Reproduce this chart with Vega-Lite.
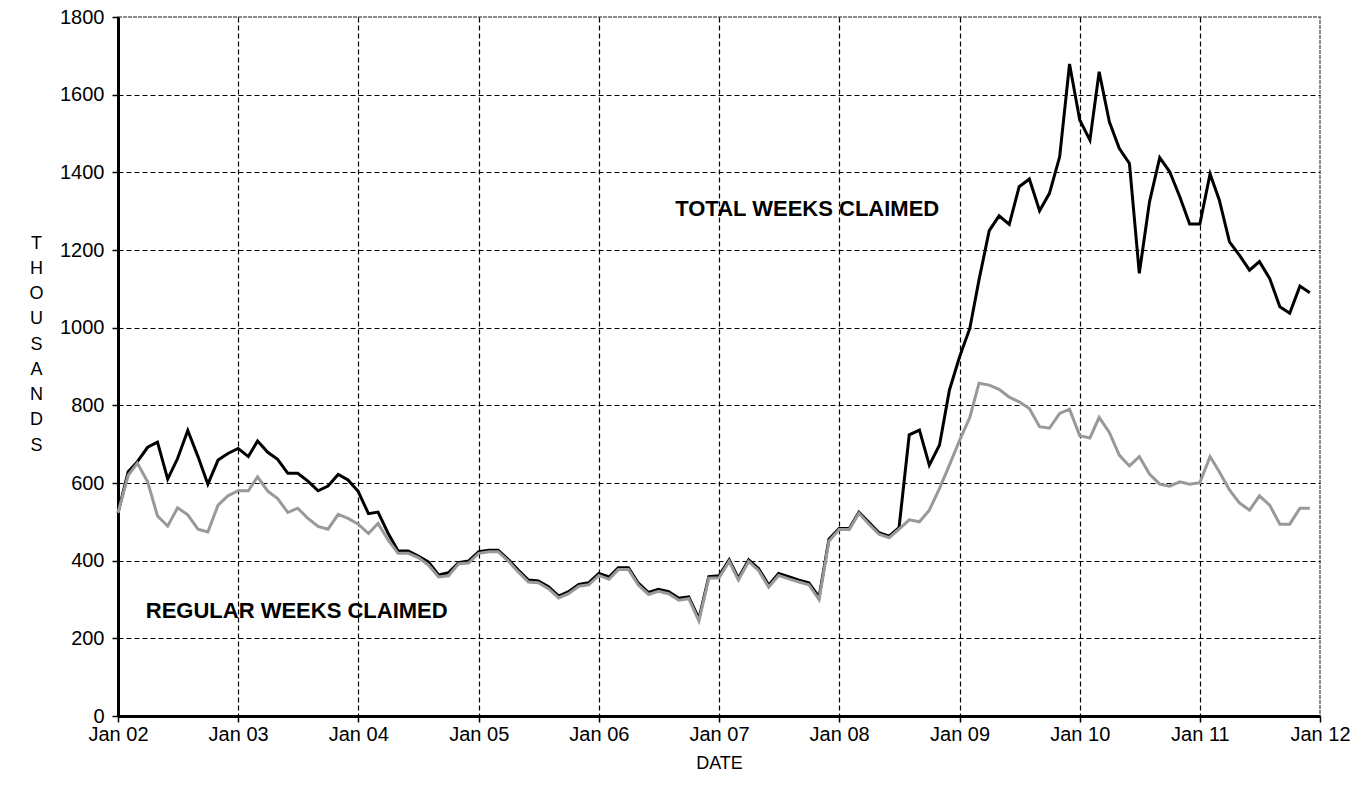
{
  "$schema": "https://vega.github.io/schema/vega-lite/v6.json",
  "width": 1202,
  "height": 699,
  "autosize": {"type": "none"},
  "padding": {"left": 118, "top": 17, "right": 52, "bottom": 80},
  "background": "white",
  "config": {
    "font": "Liberation Sans",
    "view": {"stroke": "#8c8c8c", "strokeWidth": 2, "strokeDash": [4, 1]},
    "axis": {
      "labelFont": "Liberation Sans",
      "titleFont": "Liberation Sans",
      "labelFontSize": 20,
      "titleFontSize": 18,
      "titleFontWeight": "normal",
      "labelColor": "black",
      "titleColor": "black",
      "domainColor": "black",
      "domainWidth": 3,
      "tickColor": "black",
      "tickWidth": 1.5,
      "tickSize": 6,
      "gridDash": [5, 3],
      "gridWidth": 1.2,
      "labelFlush": false,
      "labelOverlap": false
    }
  },
  "datasets": {
    "claims": [
      {"date": "2002-01-01T00:00:00", "total": 523, "regular": 523},
      {"date": "2002-02-01T00:00:00", "total": 629, "regular": 620},
      {"date": "2002-03-01T00:00:00", "total": 655, "regular": 651},
      {"date": "2002-04-01T00:00:00", "total": 692, "regular": 603},
      {"date": "2002-05-01T00:00:00", "total": 705, "regular": 515},
      {"date": "2002-06-01T00:00:00", "total": 610, "regular": 489},
      {"date": "2002-07-01T00:00:00", "total": 663, "regular": 536},
      {"date": "2002-08-01T00:00:00", "total": 735, "regular": 518},
      {"date": "2002-09-01T00:00:00", "total": 668, "regular": 481},
      {"date": "2002-10-01T00:00:00", "total": 597, "regular": 474},
      {"date": "2002-11-01T00:00:00", "total": 659, "regular": 543},
      {"date": "2002-12-01T00:00:00", "total": 676, "regular": 567},
      {"date": "2003-01-01T00:00:00", "total": 689, "regular": 580},
      {"date": "2003-02-01T00:00:00", "total": 668, "regular": 580},
      {"date": "2003-03-01T00:00:00", "total": 708, "regular": 616},
      {"date": "2003-04-01T00:00:00", "total": 679, "regular": 579},
      {"date": "2003-05-01T00:00:00", "total": 661, "regular": 560},
      {"date": "2003-06-01T00:00:00", "total": 625, "regular": 524},
      {"date": "2003-07-01T00:00:00", "total": 625, "regular": 535},
      {"date": "2003-08-01T00:00:00", "total": 605, "regular": 509},
      {"date": "2003-09-01T00:00:00", "total": 580, "regular": 488},
      {"date": "2003-10-01T00:00:00", "total": 592, "regular": 481},
      {"date": "2003-11-01T00:00:00", "total": 622, "regular": 519},
      {"date": "2003-12-01T00:00:00", "total": 608, "regular": 509},
      {"date": "2004-01-01T00:00:00", "total": 578, "regular": 494},
      {"date": "2004-02-01T00:00:00", "total": 521, "regular": 470},
      {"date": "2004-03-01T00:00:00", "total": 525, "regular": 496},
      {"date": "2004-04-01T00:00:00", "total": 470, "regular": 453},
      {"date": "2004-05-01T00:00:00", "total": 425, "regular": 419},
      {"date": "2004-06-01T00:00:00", "total": 425, "regular": 419},
      {"date": "2004-07-01T00:00:00", "total": 412, "regular": 408},
      {"date": "2004-08-01T00:00:00", "total": 397, "regular": 389},
      {"date": "2004-09-01T00:00:00", "total": 363, "regular": 358},
      {"date": "2004-10-01T00:00:00", "total": 369, "regular": 361},
      {"date": "2004-11-01T00:00:00", "total": 395, "regular": 392},
      {"date": "2004-12-01T00:00:00", "total": 399, "regular": 394},
      {"date": "2005-01-01T00:00:00", "total": 423, "regular": 419},
      {"date": "2005-02-01T00:00:00", "total": 427, "regular": 423},
      {"date": "2005-03-01T00:00:00", "total": 427, "regular": 423},
      {"date": "2005-04-01T00:00:00", "total": 403, "regular": 399},
      {"date": "2005-05-01T00:00:00", "total": 376, "regular": 371},
      {"date": "2005-06-01T00:00:00", "total": 350, "regular": 345},
      {"date": "2005-07-01T00:00:00", "total": 348, "regular": 343},
      {"date": "2005-08-01T00:00:00", "total": 333, "regular": 328},
      {"date": "2005-09-01T00:00:00", "total": 309, "regular": 304},
      {"date": "2005-10-01T00:00:00", "total": 320, "regular": 315},
      {"date": "2005-11-01T00:00:00", "total": 339, "regular": 334},
      {"date": "2005-12-01T00:00:00", "total": 343, "regular": 338},
      {"date": "2006-01-01T00:00:00", "total": 367, "regular": 362},
      {"date": "2006-02-01T00:00:00", "total": 358, "regular": 352},
      {"date": "2006-03-01T00:00:00", "total": 382, "regular": 377},
      {"date": "2006-04-01T00:00:00", "total": 382, "regular": 377},
      {"date": "2006-05-01T00:00:00", "total": 342, "regular": 337},
      {"date": "2006-06-01T00:00:00", "total": 318, "regular": 313},
      {"date": "2006-07-01T00:00:00", "total": 326, "regular": 321},
      {"date": "2006-08-01T00:00:00", "total": 320, "regular": 315},
      {"date": "2006-09-01T00:00:00", "total": 303, "regular": 298},
      {"date": "2006-10-01T00:00:00", "total": 307, "regular": 302},
      {"date": "2006-11-01T00:00:00", "total": 251, "regular": 245},
      {"date": "2006-12-01T00:00:00", "total": 359, "regular": 355},
      {"date": "2007-01-01T00:00:00", "total": 361, "regular": 356},
      {"date": "2007-02-01T00:00:00", "total": 402, "regular": 398},
      {"date": "2007-03-01T00:00:00", "total": 355, "regular": 350},
      {"date": "2007-04-01T00:00:00", "total": 402, "regular": 398},
      {"date": "2007-05-01T00:00:00", "total": 380, "regular": 375},
      {"date": "2007-06-01T00:00:00", "total": 337, "regular": 332},
      {"date": "2007-07-01T00:00:00", "total": 367, "regular": 362},
      {"date": "2007-08-01T00:00:00", "total": 359, "regular": 353},
      {"date": "2007-09-01T00:00:00", "total": 350, "regular": 345},
      {"date": "2007-10-01T00:00:00", "total": 343, "regular": 338},
      {"date": "2007-11-01T00:00:00", "total": 306, "regular": 300},
      {"date": "2007-12-01T00:00:00", "total": 455, "regular": 450},
      {"date": "2008-01-01T00:00:00", "total": 483, "regular": 480},
      {"date": "2008-02-01T00:00:00", "total": 483, "regular": 480},
      {"date": "2008-03-01T00:00:00", "total": 525, "regular": 522},
      {"date": "2008-04-01T00:00:00", "total": 498, "regular": 494},
      {"date": "2008-05-01T00:00:00", "total": 472, "regular": 468},
      {"date": "2008-06-01T00:00:00", "total": 463, "regular": 459},
      {"date": "2008-07-01T00:00:00", "total": 485, "regular": 481},
      {"date": "2008-08-01T00:00:00", "total": 724, "regular": 505},
      {"date": "2008-09-01T00:00:00", "total": 736, "regular": 500},
      {"date": "2008-10-01T00:00:00", "total": 646, "regular": 530},
      {"date": "2008-11-01T00:00:00", "total": 698, "regular": 586},
      {"date": "2008-12-01T00:00:00", "total": 839, "regular": 646},
      {"date": "2009-01-01T00:00:00", "total": 925, "regular": 710},
      {"date": "2009-02-01T00:00:00", "total": 998, "regular": 769},
      {"date": "2009-03-01T00:00:00", "total": 1123, "regular": 857},
      {"date": "2009-04-01T00:00:00", "total": 1250, "regular": 852},
      {"date": "2009-05-01T00:00:00", "total": 1288, "regular": 841},
      {"date": "2009-06-01T00:00:00", "total": 1266, "regular": 821},
      {"date": "2009-07-01T00:00:00", "total": 1363, "regular": 809},
      {"date": "2009-08-01T00:00:00", "total": 1383, "regular": 792},
      {"date": "2009-09-01T00:00:00", "total": 1301, "regular": 745},
      {"date": "2009-10-01T00:00:00", "total": 1346, "regular": 741},
      {"date": "2009-11-01T00:00:00", "total": 1440, "regular": 779},
      {"date": "2009-12-01T00:00:00", "total": 1679, "regular": 790},
      {"date": "2010-01-01T00:00:00", "total": 1535, "regular": 722},
      {"date": "2010-02-01T00:00:00", "total": 1483, "regular": 716},
      {"date": "2010-03-01T00:00:00", "total": 1659, "regular": 769},
      {"date": "2010-04-01T00:00:00", "total": 1530, "regular": 730},
      {"date": "2010-05-01T00:00:00", "total": 1462, "regular": 672},
      {"date": "2010-06-01T00:00:00", "total": 1423, "regular": 644},
      {"date": "2010-07-01T00:00:00", "total": 1140, "regular": 668},
      {"date": "2010-08-01T00:00:00", "total": 1324, "regular": 623},
      {"date": "2010-09-01T00:00:00", "total": 1438, "regular": 597},
      {"date": "2010-10-01T00:00:00", "total": 1402, "regular": 592},
      {"date": "2010-11-01T00:00:00", "total": 1337, "regular": 603},
      {"date": "2010-12-01T00:00:00", "total": 1267, "regular": 597},
      {"date": "2011-01-01T00:00:00", "total": 1267, "regular": 601},
      {"date": "2011-02-01T00:00:00", "total": 1396, "regular": 668},
      {"date": "2011-03-01T00:00:00", "total": 1329, "regular": 629},
      {"date": "2011-04-01T00:00:00", "total": 1221, "regular": 582},
      {"date": "2011-05-01T00:00:00", "total": 1187, "regular": 549},
      {"date": "2011-06-01T00:00:00", "total": 1148, "regular": 530},
      {"date": "2011-07-01T00:00:00", "total": 1170, "regular": 567},
      {"date": "2011-08-01T00:00:00", "total": 1127, "regular": 543},
      {"date": "2011-09-01T00:00:00", "total": 1054, "regular": 494},
      {"date": "2011-10-01T00:00:00", "total": 1037, "regular": 494},
      {"date": "2011-11-01T00:00:00", "total": 1107, "regular": 535},
      {"date": "2011-12-01T00:00:00", "total": 1090, "regular": 535}
    ],
    "labels": [
      {"date": "2007-09-26T00:00:00", "value": 1305, "label": "TOTAL WEEKS CLAIMED"},
      {"date": "2003-06-28T00:00:00", "value": 270, "label": "REGULAR WEEKS CLAIMED"}
    ]
  },
  "layer": [
    {
      "data": {"name": "claims"},
      "mark": {"type": "line", "color": "black", "strokeWidth": 3, "strokeJoin": "miter"},
      "encoding": {
        "x": {
          "field": "date",
          "type": "temporal",
          "scale": {"domain": [{"year": 2002, "month": 1, "date": 1}, {"year": 2012, "month": 1, "date": 1}]},
          "axis": {
            "title": "DATE",
            "titlePadding": 10,
            "format": "%b %y",
            "values": [
              {"year": 2002, "month": 1, "date": 1}, {"year": 2003, "month": 1, "date": 1},
              {"year": 2004, "month": 1, "date": 1}, {"year": 2005, "month": 1, "date": 1},
              {"year": 2006, "month": 1, "date": 1}, {"year": 2007, "month": 1, "date": 1},
              {"year": 2008, "month": 1, "date": 1}, {"year": 2009, "month": 1, "date": 1},
              {"year": 2010, "month": 1, "date": 1}, {"year": 2011, "month": 1, "date": 1},
              {"year": 2012, "month": 1, "date": 1}
            ],
            "labelPadding": 2,
            "grid": true,
            "gridColor": "black",
            "gridOpacity": {"condition": {"test": "year(datum.value) >= 2012", "value": 0}, "value": 1}
          }
        },
        "y": {
          "field": "total",
          "type": "quantitative",
          "scale": {"domain": [0, 1800], "nice": false},
          "axis": {
            "values": [0, 200, 400, 600, 800, 1000, 1200, 1400, 1600, 1800],
            "format": "d",
            "labelPadding": 8,
            "grid": true,
            "gridColor": "black",
            "gridOpacity": {"condition": {"test": "datum.value >= 1800", "value": 0}, "value": 1},
            "title": ["T", "H", "O", "U", "S", "A", "N", "D", "S"],
            "titleAngle": 0,
            "titleAlign": "center",
            "titleBaseline": "middle",
            "titleLineHeight": 25.25,
            "titleX": -82,
            "titleY": 226
          }
        }
      }
    },
    {
      "data": {"name": "claims"},
      "mark": {"type": "line", "color": "#999999", "strokeWidth": 3, "strokeJoin": "miter"},
      "encoding": {
        "x": {"field": "date", "type": "temporal"},
        "y": {"field": "regular", "type": "quantitative"}
      }
    },
    {
      "data": {"name": "labels"},
      "mark": {"type": "text", "font": "Liberation Sans", "fontWeight": "bold", "fontSize": 22, "color": "black", "align": "center", "baseline": "middle"},
      "encoding": {
        "x": {"field": "date", "type": "temporal"},
        "y": {"field": "value", "type": "quantitative"},
        "text": {"field": "label"}
      }
    }
  ]
}
